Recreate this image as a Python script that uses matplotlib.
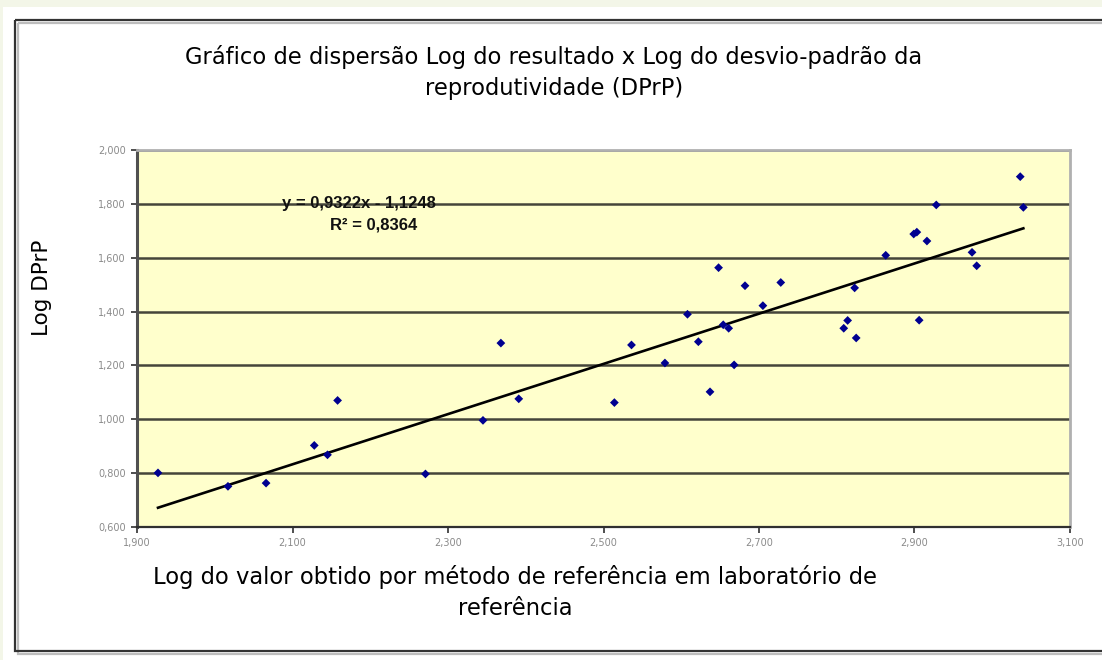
import matplotlib
matplotlib.use("Agg")
import matplotlib.pyplot as plt
from matplotlib.patches import Rectangle
from matplotlib.ticker import FuncFormatter, FixedLocator
import numpy as np

# ---- data ----
log_ref = [1.927, 2.017, 2.066, 2.128, 2.145, 2.158, 2.271, 2.345, 2.368, 2.391,
           2.514, 2.536, 2.579, 2.608, 2.622, 2.637, 2.648, 2.654, 2.661, 2.668,
           2.682, 2.705, 2.728, 2.809, 2.814, 2.823, 2.825, 2.863, 2.899, 2.903,
           2.906, 2.916, 2.928, 2.974, 2.980, 3.036, 3.040]
log_dprp = [0.801, 0.751, 0.763, 0.903, 0.868, 1.070, 0.797, 0.996, 1.283, 1.076,
            1.062, 1.276, 1.209, 1.390, 1.288, 1.102, 1.563, 1.351, 1.338, 1.202,
            1.496, 1.422, 1.508, 1.338, 1.367, 1.488, 1.302, 1.609, 1.688, 1.695,
            1.368, 1.662, 1.796, 1.620, 1.570, 1.901, 1.787]
slope = 0.9322
intercept = -1.1248
r2 = 0.8364

x_ticks = [1.9, 2.1, 2.3, 2.5, 2.7, 2.9, 3.1]
y_ticks = [0.6, 0.8, 1.0, 1.2, 1.4, 1.6, 1.8, 2.0]

title = "Gráfico de dispersão Log do resultado x Log do desvio-padrão da\nreprodutividade (DPrP)"
xlabel = "Log do valor obtido por método de referência em laboratório de\nreferência"
ylabel = "Log DPrP"
eq_text = "y = 0,9322x - 1,1248"
r2_text = "R² = 0,8364"

W, H = 1102, 660
fig = plt.figure(figsize=(W / 100, H / 100), dpi=100)
fig.patch.set_facecolor("#f3f6e8")

bg = fig.add_axes([0, 0, 1, 1], zorder=0)
bg.set_xlim(0, W)
bg.set_ylim(H, 0)
bg.axis("off")
bg.add_patch(Rectangle((3, 7), W, H, facecolor="white", edgecolor="none"))
bg.add_patch(Rectangle((17.5, 22.5), W, 631, facecolor="none", edgecolor="#bdbdbd", lw=1.6))
bg.add_patch(Rectangle((15, 20), W, 631, facecolor="none", edgecolor="#333333", lw=1.6))

ax = fig.add_axes([137 / W, 1 - 527 / H, (1070 - 137) / W, (527 - 150) / H], zorder=2)
ax.set_facecolor("#ffffcc")
ax.set_xlim(x_ticks[0], x_ticks[-1])
ax.set_ylim(y_ticks[0], y_ticks[-1])
ax.xaxis.set_major_locator(FixedLocator(x_ticks))
ax.yaxis.set_major_locator(FixedLocator(y_ticks))
fmt = FuncFormatter(lambda v, p: f"{v:.3f}".replace(".", ","))
ax.xaxis.set_major_formatter(fmt)
ax.yaxis.set_major_formatter(fmt)
ax.tick_params(axis="both", labelsize=7, labelcolor="#8a8a8a", direction="out",
               length=4, width=1.2, color="#303030", pad=4)
ax.grid(axis="y", color="#45453a", lw=1.8)
ax.set_axisbelow(True)
for s in ("top", "right"):
    ax.spines[s].set_color("#b0b0b0")
    ax.spines[s].set_linewidth(2)
ax.spines["left"].set_color("#505050")
ax.spines["left"].set_linewidth(2.2)
ax.spines["bottom"].set_color("#303030")
ax.spines["bottom"].set_linewidth(1.6)

ax.scatter(log_ref, log_dprp, marker="D", s=20, color="#000090", zorder=4,
           edgecolors="none")
xs = np.array([min(log_ref), max(log_ref)])
ax.plot(xs, slope * xs + intercept, color="black", lw=1.9, zorder=3)

ax.text(2.087, 1.803, eq_text, fontsize=12, fontweight="bold", family="Liberation Sans",
        ha="left", va="center", color="#111111", zorder=5)
ax.text(2.148, 1.722, r2_text, fontsize=12, fontweight="bold", family="Liberation Sans",
        ha="left", va="center", color="#111111", zorder=5)

fig.text(554 / W, 1 - 72.5 / H, title, ha="center", va="center", fontsize=16.3,
         family="DejaVu Sans", linespacing=1.45, zorder=5)
fig.text(515 / W, 1 - 592.5 / H, xlabel, ha="center", va="center", fontsize=16.3,
         family="DejaVu Sans", linespacing=1.45, zorder=5)
fig.text(42 / W, 1 - 288 / H, ylabel, ha="center", va="center", rotation=90,
         fontsize=15.5, family="DejaVu Sans", zorder=5)

fig.savefig("out.png", dpi=100, facecolor=fig.get_facecolor())
